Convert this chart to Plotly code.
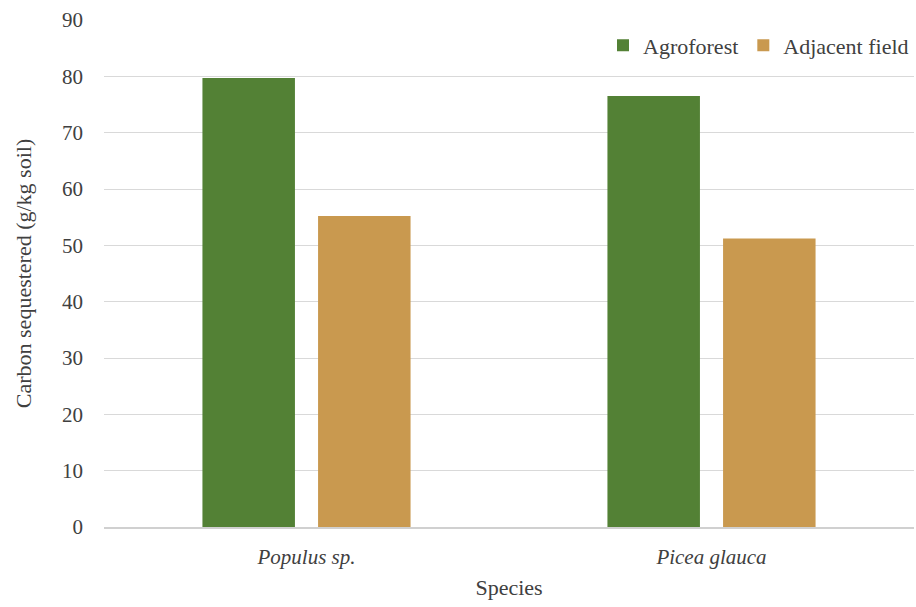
import plotly.graph_objects as go

species = ["<i>Populus sp.</i>", "<i>Picea glauca</i>"]
agroforest = [79.7, 76.5]
adjacent = [55.2, 51.2]

font_family = "Liberation Serif"
text_color = "#404040"

fig = go.Figure()
fig.add_trace(go.Bar(x=species, y=agroforest, name="Agroforest",
                     marker=dict(color="#538135", line=dict(width=0))))
fig.add_trace(go.Bar(x=species, y=adjacent, name="Adjacent field",
                     marker=dict(color="#C9994F", line=dict(width=0))))

fig.update_layout(
    width=916, height=607,
    margin=dict(l=104, r=2, t=20, b=80),
    paper_bgcolor="white", plot_bgcolor="white",
    font=dict(family=font_family, size=21, color=text_color),
    barmode="group", bargap=0.429, bargroupgap=0.2,
    legend=dict(orientation="h", x=1.0, xanchor="right", y=0.95, yanchor="middle",
                font=dict(size=22, color=text_color), bgcolor="rgba(0,0,0,0)",
                itemwidth=30, traceorder="normal"),
    xaxis=dict(title=dict(text="Species", font=dict(size=22), standoff=12),
               showline=True, linecolor="#d0d0d0", linewidth=1.5,
               tickfont=dict(size=21), ticks="", ticklabelstandoff=10, automargin=False),
    yaxis=dict(title=dict(text="Carbon sequestered (g/kg soil)", font=dict(size=22), standoff=24),
               range=[0, 90], dtick=10, showgrid=True, gridcolor="#d9d9d9", gridwidth=1,
               zeroline=False, ticks="", tickfont=dict(size=21), ticklabelstandoff=20,
               automargin=True),
)

fig.write_html("out.html", config={"displayModeBar": False},
               post_script="document.body.style.margin='0';")
